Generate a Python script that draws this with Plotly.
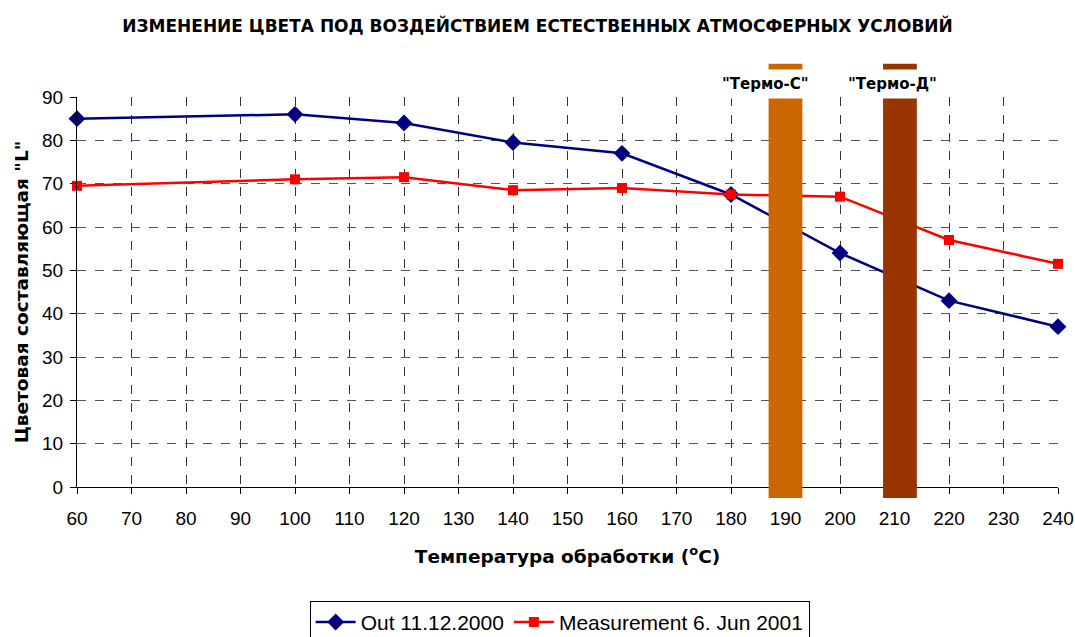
import plotly.graph_objects as go

temps = [60, 100, 120, 140, 160, 180, 200, 220, 240]
out_2000 = [85, 86, 84, 79.5, 77, 67.5, 54, 43, 37]
meas_2001 = [69.5, 71, 71.5, 68.5, 69, 67.5, 67, 57, 51.5]

band_labels = ['"Термо-С"', '"Термо-Д"']
band_centers = [190, 211]
band_label_x = [186.3, 209.6]
band_colors = ["#CC6600", "#993300"]
band_halfwidth = 3.1

title = "ИЗМЕНЕНИЕ ЦВЕТА ПОД ВОЗДЕЙСТВИЕМ ЕСТЕСТВЕННЫХ АТМОСФЕРНЫХ УСЛОВИЙ"
x_title = "Температура обработки (<sup>o</sup>C)"
y_title = 'Цветовая составляющая "L"'

fig = go.Figure()
fig.add_trace(go.Scatter(
    x=temps, y=out_2000, name="Out 11.12.2000", mode="lines+markers",
    line=dict(color="#000080", width=2.5),
    marker=dict(symbol="diamond", size=13, color="#000080"),
    cliponaxis=False,
))
fig.add_trace(go.Scatter(
    x=temps, y=meas_2001, name="Measurement 6. Jun 2001", mode="lines+markers",
    line=dict(color="#FF0000", width=2.5),
    marker=dict(symbol="square", size=10, color="#FF0000"),
    cliponaxis=False,
))

for c, col in zip(band_centers, band_colors):
    fig.add_shape(type="rect", xref="x", yref="paper",
                  x0=c - band_halfwidth, x1=c + band_halfwidth,
                  y0=-0.028, y1=1.085, fillcolor=col, line=dict(width=0),
                  layer="above")

for lx, lab in zip(band_label_x, band_labels):
    fig.add_annotation(x=lx, xref="x", y=1.033, yref="paper", yanchor="middle",
                       xanchor="center", text="<b>" + lab + "</b>",
                       showarrow=False, bgcolor="white", borderpad=5,
                       font=dict(family="DejaVu Sans", size=15, color="black"))

fig.update_layout(
    width=1075, height=637,
    margin=dict(l=77, r=17, t=97, b=150, autoexpand=False),
    paper_bgcolor="white", plot_bgcolor="white",
    title=dict(text="<b>" + title + "</b>", x=0.5, xanchor="center", y=0.959, yanchor="middle",
               font=dict(family="DejaVu Sans", size=17, color="black")),
    font=dict(family="Liberation Sans", size=19, color="black"),
    showlegend=True,
    legend=dict(orientation="h", x=0.492, xanchor="center", y=-0.347, yanchor="middle",
                bordercolor="black", borderwidth=1, bgcolor="white",
                font=dict(family="Liberation Sans", size=21), itemwidth=40,
                tracegroupgap=0),
)
fig.update_xaxes(
    range=[60, 240], tickmode="linear", tick0=60, dtick=10,
    showline=True, linecolor="black", linewidth=1,
    ticks="outside", ticklen=6, tickcolor="black",
    ticklabelstandoff=8, automargin=False,
    showgrid=True, gridcolor="#333333", griddash="dash", gridwidth=1,
    zeroline=False,
    title=dict(text="<b>" + x_title + "</b>", standoff=22,
               font=dict(family="DejaVu Sans", size=18.5)),
)
fig.update_yaxes(
    range=[0, 90], tickmode="linear", tick0=0, dtick=10,
    showline=True, linecolor="black", linewidth=1,
    ticks="outside", ticklen=6, tickcolor="black",
    ticklabelstandoff=3, automargin=False,
    showgrid=True, gridcolor="#555555", griddash="dash", gridwidth=1,
    zeroline=False,
    title=dict(text="<b>" + y_title + "</b>", standoff=8,
               font=dict(family="DejaVu Sans", size=18.5)),
)

fig.write_html("out.html", config={"displayModeBar": False},
               post_script="document.body.style.margin='0px';")
